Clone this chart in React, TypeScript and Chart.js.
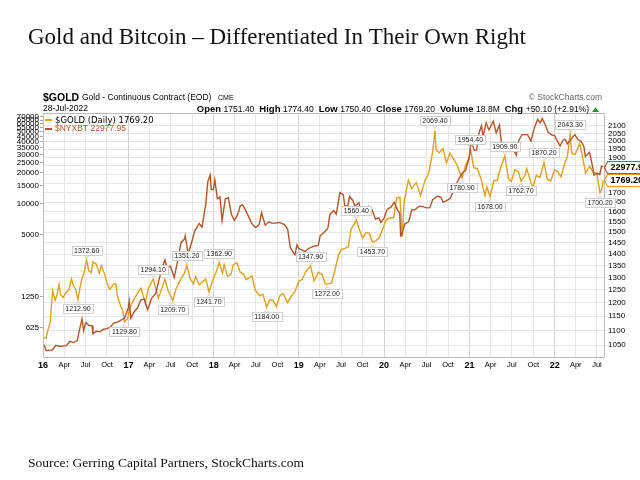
import { useEffect, useRef } from "react";
import { Chart, registerables } from "chart.js";
Chart.register(...registerables);

// ---------------- DATA ----------------
const goldDates = [
  "2016-01-04","2016-01-14","2016-01-21","2016-02-01","2016-02-11","2016-02-22","2016-03-01","2016-03-10","2016-03-16","2016-03-28",
  "2016-04-07","2016-04-21","2016-05-02","2016-05-11","2016-05-19","2016-05-30","2016-06-08","2016-06-16","2016-06-24","2016-07-06",
  "2016-07-15","2016-07-26","2016-08-02","2016-08-16","2016-08-29","2016-09-07","2016-09-20","2016-10-04","2016-10-14","2016-10-28",
  "2016-11-08","2016-11-15","2016-11-28","2016-12-07","2016-12-15","2016-12-28",
  "2017-01-09","2017-01-24","2017-02-06","2017-02-24","2017-03-14","2017-03-27","2017-04-17","2017-05-09","2017-05-24","2017-06-06",
  "2017-06-20","2017-07-10","2017-07-24","2017-08-11","2017-08-29","2017-09-08","2017-09-22","2017-10-06","2017-10-16","2017-10-31",
  "2017-11-15","2017-11-28","2017-12-12","2017-12-27",
  "2018-01-10","2018-01-25","2018-02-08","2018-02-15","2018-03-01","2018-03-16","2018-03-26","2018-04-11","2018-04-24","2018-05-09",
  "2018-05-21","2018-06-14","2018-06-28","2018-07-17","2018-07-31","2018-08-16","2018-08-29","2018-09-13","2018-09-27","2018-10-11",
  "2018-10-26","2018-11-13","2018-11-30","2018-12-14","2018-12-31",
  "2019-01-15","2019-01-31","2019-02-20","2019-03-07","2019-03-25","2019-04-10","2019-04-23","2019-05-02","2019-05-20","2019-06-04",
  "2019-06-20","2019-07-03","2019-07-17","2019-08-01","2019-08-13","2019-08-26","2019-09-04","2019-09-17","2019-10-01","2019-10-15",
  "2019-10-30","2019-11-12","2019-11-27","2019-12-11","2019-12-27",
  "2020-01-08","2020-01-24","2020-02-11","2020-02-24","2020-03-09","2020-03-19","2020-03-27","2020-04-14","2020-04-28","2020-05-18",
  "2020-06-05","2020-06-25","2020-07-09","2020-07-27","2020-08-06","2020-08-11","2020-08-24","2020-09-09","2020-09-24","2020-10-09",
  "2020-10-30","2020-11-09","2020-11-30","2020-12-16","2020-12-31",
  "2021-01-05","2021-01-19","2021-02-03","2021-02-19","2021-03-08","2021-03-16","2021-03-30","2021-04-15","2021-04-30","2021-05-14",
  "2021-06-01","2021-06-17","2021-06-29","2021-07-15","2021-07-30","2021-08-09","2021-08-26","2021-09-03","2021-09-29","2021-10-14",
  "2021-10-29","2021-11-16","2021-11-30","2021-12-15","2021-12-31",
  "2022-01-14","2022-01-28","2022-02-14","2022-02-24","2022-03-08","2022-03-15","2022-03-29","2022-04-18","2022-04-29","2022-05-13",
  "2022-05-31","2022-06-14","2022-06-30","2022-07-14","2022-07-21","2022-07-28",
];
const goldValues = [
  1075,1073,1098,1128,1247,1210,1232,1272,1230,1221,
  1238,1250,1294,1265,1255,1212.9,1262,1296,1318,1372.6,
  1328,1320,1366,1357,1318,1350,1315,1270,1252,1272,
  1276,1225,1189,1172,1129.8,1141,
  1185,1212,1232,1257,1198,1256,1294.1,1218,1256,1293,
  1246,1209.7,1255,1290,1318,1351.2,1297,1274,1303,1270,
  1283,1294,1241.7,1287,
  1319,1362.9,1318,1354,1305,1313,1354,1362,1323,1313,
  1291,1307,1250,1227,1233,1184,1211,1208,1186,1227,
  1236,1201,1226,1241,1284,
  1292,1325,1347.9,1286,1322,1313,1276,1272,1277,1328,
  1397,1420,1425,1433,1517,1537,1560.4,1513,1472,1498,
  1496,1453.7,1460,1475,1518,
  1557,1571,1570,1672,1675,1478,1654,1768,1722,1756,
  1683,1770,1803,1931,2069.4,1946,1929,1954,1868,1925,
  1879,1853,1780.9,1858,1895,
  1954.4,1840,1835,1777,1683,1731,1678,1766,1768,1839,
  1909.9,1774,1761,1828,1817,1762.7,1793,1833,1726,1797,
  1783,1870.2,1774,1764,1828,
  1817,1786,1871,1903,2043.3,1926,1917,1986,1911,1808,
  1848,1813,1807,1700.2,1718,1769.2,
];

const btcDates = [
  "2016-01-04","2016-01-15","2016-01-28","2016-02-10","2016-02-25","2016-03-10","2016-03-25","2016-04-10","2016-04-25","2016-05-10",
  "2016-05-27","2016-06-03","2016-06-16","2016-06-23","2016-07-02","2016-07-15","2016-07-29","2016-08-02","2016-08-16","2016-09-01",
  "2016-09-16","2016-10-01","2016-10-16","2016-10-30","2016-11-15","2016-11-30","2016-12-15","2016-12-31",
  "2017-01-04","2017-01-11","2017-01-25","2017-02-09","2017-02-23","2017-03-10","2017-03-24","2017-04-10","2017-04-28","2017-05-10",
  "2017-05-25","2017-06-06","2017-06-15","2017-06-30","2017-07-16","2017-07-30","2017-08-14","2017-08-30","2017-09-01","2017-09-14",
  "2017-09-30","2017-10-12","2017-10-31","2017-11-12","2017-11-28","2017-12-07","2017-12-17","2017-12-22","2017-12-31",
  "2018-01-06","2018-01-17","2018-01-28","2018-02-06","2018-02-20","2018-03-05","2018-03-18","2018-03-31","2018-04-15","2018-04-25",
  "2018-05-05","2018-05-20","2018-06-12","2018-06-29","2018-07-15","2018-07-25","2018-08-10","2018-08-25","2018-09-05","2018-09-20",
  "2018-10-10","2018-10-31","2018-11-14","2018-11-25","2018-12-07","2018-12-15","2018-12-24","2018-12-31",
  "2019-01-10","2019-01-28","2019-02-08","2019-02-24","2019-03-10","2019-03-25","2019-04-02","2019-04-20","2019-05-05","2019-05-14",
  "2019-05-30","2019-06-10","2019-06-26","2019-07-10","2019-07-17","2019-07-30","2019-08-06","2019-08-20","2019-08-29","2019-09-15",
  "2019-09-26","2019-10-10","2019-10-26","2019-11-10","2019-11-25","2019-12-10","2019-12-18","2019-12-31",
  "2020-01-14","2020-01-31","2020-02-13","2020-02-28","2020-03-08","2020-03-12","2020-03-16","2020-03-30","2020-04-15","2020-04-29",
  "2020-05-10","2020-05-31","2020-06-15","2020-06-30","2020-07-15","2020-07-27","2020-08-16","2020-08-31","2020-09-10","2020-09-25",
  "2020-10-10","2020-10-21","2020-11-05","2020-11-18","2020-11-30","2020-12-16","2020-12-31",
  "2021-01-08","2021-01-22","2021-02-01","2021-02-08","2021-02-21","2021-02-28","2021-03-13","2021-03-25","2021-04-13","2021-04-25",
  "2021-05-09","2021-05-19","2021-05-31","2021-06-12","2021-06-22","2021-07-06","2021-07-20","2021-07-31","2021-08-14","2021-08-31",
  "2021-09-07","2021-09-21","2021-10-06","2021-10-20","2021-10-31","2021-11-08","2021-11-20","2021-12-04","2021-12-20","2021-12-31",
  "2022-01-10","2022-01-24","2022-02-05","2022-02-14","2022-02-24","2022-03-09","2022-03-28","2022-04-10","2022-04-25","2022-05-06",
  "2022-05-12","2022-05-30","2022-06-13","2022-06-18","2022-06-30","2022-07-13","2022-07-20","2022-07-28",
];
const btcValues = [
  433,375,380,381,424,415,417,420,462,450,
  471,569,766,587,703,663,655,548,580,572,
  607,615,638,697,711,742,780,963,
  1135,777,893,980,1170,1190,937,1210,1350,1760,
  2400,2860,2410,2480,1930,2730,4200,4600,4890,3250,
  4340,5440,6450,5950,9900,16500,19100,13800,13850,
  17100,11200,11700,6900,11200,11500,7900,6900,8000,9600,
  9800,8500,6500,5900,6300,8200,6200,6700,6500,6500,
  6600,6300,5700,3800,3400,3200,4000,3700,
  3600,3450,3650,3800,3900,3950,4900,5300,5800,7900,
  8600,7950,12900,12300,9500,9600,11800,10800,9500,10300,
  8000,8600,9500,8800,7100,7300,6600,7200,
  8800,9350,10350,8700,8100,4900,5000,6400,6700,8800,
  8700,9500,9400,9150,9200,11000,11850,11650,10350,10750,
  11300,12800,15500,17800,19700,21300,29000,
  40500,33000,33500,46400,57500,45200,61200,52300,63500,49100,
  58200,37000,37300,35500,32500,34000,29800,41500,47100,47100,
  46800,40700,55300,66000,61300,67500,59700,49200,46700,46300,
  41800,36700,41500,42500,38300,41900,47100,42200,40400,36000,
  28900,31700,22500,19000,19800,19300,23200,22977.95,
];

// swing-point labels on the gold line
const tagDates = [
  "2016-07-06","2016-05-30","2016-12-15","2017-04-17","2017-07-10","2017-09-08","2017-12-12","2018-01-25","2018-08-16","2019-02-20",
  "2019-05-02","2019-09-04","2019-11-12","2020-08-06","2020-11-30","2021-01-05","2021-03-30","2021-06-01","2021-08-09","2021-11-16",
  "2022-03-08","2022-07-14",
];
const tagValues = [
  1372.6,1212.9,1129.8,1294.1,1209.7,1351.2,1241.7,1362.9,1184.0,1347.9,
  1272.0,1560.4,1453.7,2069.4,1780.9,1954.4,1678.0,1909.9,1762.7,1870.2,
  2043.3,1700.2,
];
const tagAbove = [
  true,false,false,true,false,true,false,true,false,true,
  false,true,false,true,false,true,false,true,false,true,
  true,false,
];

const leftTicks = [625,1250,5000,10000,15000,20000,25000,30000,35000,40000,45000,50000,55000,60000,65000,70000];
const rightTicks = [1050,1100,1150,1200,1250,1300,1350,1400,1450,1500,1550,1600,1650,1700,1750,1800,1850,1900,1950,2000,2050,2100];
const yearLabels = ["16","17","18","19","20","21","22"];
const monthLabels = ["Apr","Jul","Oct"];

const GOLD = "#e0a11e";
const BTC = "#b1552c";

const toDay = (s: string) => {
  const [y, m, d] = s.split("-").map(Number);
  return (Date.UTC(y, m - 1, d) - Date.UTC(2016, 0, 1)) / 86400000;
};

const xTickValues: number[] = [];
const xTickLabels: string[] = [];
const xTickIsYear: boolean[] = [];
yearLabels.forEach((yl, yi) => {
  const y = 2016 + yi;
  [0, 3, 6, 9].forEach((m, mi) => {
    if (y === 2022 && m > 6) return;
    xTickValues.push((Date.UTC(y, m, 1) - Date.UTC(2016, 0, 1)) / 86400000);
    xTickLabels.push(mi === 0 ? yl : monthLabels[mi - 1]);
    xTickIsYear.push(mi === 0);
  });
});

const overlay = {
  id: "overlay",
  afterDraw(chart: any) {
    const ctx = chart.ctx as CanvasRenderingContext2D;
    const a = chart.chartArea;
    const xs = chart.scales.x, yg = chart.scales.yG, yl = chart.scales.yL;
    ctx.save();
    // plot frame
    ctx.strokeStyle = "#bcbcbc";
    ctx.lineWidth = 1;
    ctx.strokeRect(Math.round(a.left) + 0.5, Math.round(a.top) + 0.5, Math.round(a.right - a.left), Math.round(a.bottom - a.top));

    // title
    ctx.fillStyle = "#111";
    ctx.textBaseline = "alphabetic";
    ctx.textAlign = "left";
    ctx.font = '23px "Liberation Serif"';
    ctx.fillText("Gold and Bitcoin \u2013 Differentiated In Their Own Right", 28, 44);
    // source
    ctx.font = '13.5px "Liberation Serif"';
    ctx.fillText("Source: Gerring Capital Partners, StockCharts.com", 28, 467);

    // header row 1
    ctx.textBaseline = "middle";
    ctx.fillStyle = "#000";
    ctx.font = 'bold 10.5px "Liberation Sans"';
    ctx.fillText("$GOLD", 43, 98);
    ctx.font = '8.5px "Liberation Sans"';
    ctx.fillText("Gold - Continuous Contract (EOD)", 82, 98);
    ctx.font = '7px "Liberation Sans"';
    ctx.fillText("CME", 218, 98.5);
    ctx.fillStyle = "#666";
    ctx.font = '8.5px "Liberation Sans"';
    ctx.textAlign = "right";
    ctx.fillText("\u00a9 StockCharts.com", 602, 98);
    // header row 2
    ctx.textAlign = "left";
    ctx.fillStyle = "#000";
    ctx.font = '8.5px "Liberation Sans"';
    ctx.fillText("28-Jul-2022", 43, 109);
    const parts: [string, string][] = [
      ["Open", "1751.40"], ["High", "1774.40"], ["Low", "1750.40"], ["Close", "1769.20"], ["Volume", "18.8M"], ["Chg", "+50.10 (+2.91%)"],
    ];
    let widths = 0;
    const segs: { t: string; f: string; w: number }[] = [];
    parts.forEach(([l, v]) => {
      ctx.font = 'bold 9.5px "Liberation Sans"';
      const wl = ctx.measureText(l).width;
      segs.push({ t: l, f: ctx.font, w: wl + 2.5 });
      ctx.font = '8.5px "Liberation Sans"';
      const wv = ctx.measureText(v).width;
      segs.push({ t: v, f: ctx.font, w: wv + 5 });
      widths += wl + 2.5 + wv + 5;
    });
    let hx = 594 - widths;
    segs.forEach((s) => {
      ctx.font = s.f;
      ctx.fillText(s.t, hx, 109.5);
      hx += s.w;
    });
    ctx.fillStyle = "#1a9a1a";
    ctx.beginPath();
    ctx.moveTo(hx - 2, 112);
    ctx.lineTo(hx + 5, 112);
    ctx.lineTo(hx + 1.5, 107.5);
    ctx.closePath();
    ctx.fill();

    // legend
    ctx.fillStyle = GOLD;
    ctx.fillRect(45, 119, 7, 2);
    ctx.fillStyle = "#000";
    ctx.font = '8.5px "DejaVu Sans"';
    ctx.fillText("$GOLD (Daily) 1769.20", 55, 120.5);
    ctx.fillStyle = BTC;
    ctx.fillRect(45, 128, 7, 2);
    ctx.font = '8.5px "Liberation Sans"';
    ctx.fillText("$NYXBT 22977.95", 55, 129);

    // swing labels
    ctx.font = '7px "Liberation Sans"';
    ctx.textAlign = "center";
    tagDates.forEach((d, i) => {
      const px = xs.getPixelForValue(toDay(d));
      const py = yg.getPixelForValue(tagValues[i]);
      const text = tagValues[i].toFixed(2);
      const w = Math.round(ctx.measureText(text).width + 5);
      const h = 9;
      const bx = Math.round(px - w / 2) + 0.5;
      const by = tagAbove[i] ? Math.round(py - 5 - h) + 0.5 : Math.round(py + 5) + 0.5;
      ctx.fillStyle = "#fff";
      ctx.fillRect(bx, by, w, h);
      ctx.strokeStyle = "#cfcfcf";
      ctx.strokeRect(bx, by, w, h);
      ctx.beginPath();
      if (tagAbove[i]) {
        ctx.moveTo(px - 2.5, by + h);
        ctx.lineTo(px, by + h + 3);
        ctx.lineTo(px + 2.5, by + h);
      } else {
        ctx.moveTo(px - 2.5, by);
        ctx.lineTo(px, by - 3);
        ctx.lineTo(px + 2.5, by);
      }
      ctx.stroke();
      ctx.fillStyle = "#222";
      ctx.fillText(text, px, by + h / 2 + 0.5);
    });

    // last-value boxes on right axis
    const box = (text: string, y: number, color: string) => {
      ctx.font = 'bold 9px "Liberation Sans"';
      ctx.textAlign = "left";
      const w = ctx.measureText(text).width + 6;
      const x0 = a.right + 0.5;
      const yy = Math.round(y) + 0.5;
      ctx.fillStyle = "#fff";
      ctx.strokeStyle = color;
      ctx.lineWidth = 1.2;
      ctx.beginPath();
      ctx.moveTo(x0, yy);
      ctx.lineTo(x0 + 3, yy - 6);
      ctx.lineTo(x0 + 3 + w, yy - 6);
      ctx.lineTo(x0 + 3 + w, yy + 6);
      ctx.lineTo(x0 + 3, yy + 6);
      ctx.closePath();
      ctx.fill();
      ctx.stroke();
      ctx.fillStyle = "#000";
      ctx.fillText(text, x0 + 6, yy + 0.5);
    };
    box("22977.95", yl.getPixelForValue(btcValues[btcValues.length - 1]), BTC);
    box("1769.20", yg.getPixelForValue(goldValues[goldValues.length - 1]), GOLD);
    ctx.restore();
  },
};

export default function App() {
  const ref = useRef<HTMLCanvasElement | null>(null);
  useEffect(() => {
    if (!ref.current) return;
    const chart = new Chart(ref.current, {
      type: "line",
      data: {
        datasets: [
          {
            label: "$NYXBT",
            data: btcDates.map((d, i) => ({ x: toDay(d), y: btcValues[i] })),
            yAxisID: "yL",
            borderColor: BTC,
            borderWidth: 1.4,
            pointRadius: 0,
            tension: 0,
          },
          {
            label: "$GOLD",
            data: goldDates.map((d, i) => ({ x: toDay(d), y: goldValues[i] })),
            yAxisID: "yG",
            borderColor: GOLD,
            borderWidth: 1.4,
            pointRadius: 0,
            tension: 0,
          },
        ],
      },
      options: {
        animation: false,
        responsive: false,
        events: [],
        layout: { padding: { top: 113, bottom: 108, left: 0, right: 0 } },
        plugins: { legend: { display: false }, tooltip: { enabled: false } },
        scales: {
          x: {
            type: "linear",
            min: 0,
            max: 2403,
            afterBuildTicks: (s: any) => {
              s.ticks = xTickValues.map((v) => ({ value: v }));
            },
            afterFit: (s: any) => {
              s.height = 15;
            },
            grid: {
              color: (c: any) => {
                const i = xTickValues.indexOf(c.tick ? c.tick.value : -1);
                return i >= 0 && xTickIsYear[i] ? "#d2d2d2" : "#e6e6e6";
              },
              drawTicks: false,
              tickLength: 0,
            },
            border: { display: false },
            ticks: {
              autoSkip: false,
              maxRotation: 0,
              padding: 3,
              color: "#000",
              font: (c: any) => {
                const i = c.index;
                return xTickIsYear[i]
                  ? { family: "Liberation Sans", size: 9, weight: "bold" }
                  : { family: "Liberation Sans", size: 7.5 };
              },
              callback: (v: any) => {
                const i = xTickValues.indexOf(v);
                return i >= 0 ? xTickLabels[i] : "";
              },
            },
          },
          yL: {
            type: "logarithmic",
            position: "left",
            min: 326,
            max: 76300,
            afterBuildTicks: (s: any) => {
              s.ticks = leftTicks.map((v) => ({ value: v }));
            },
            afterFit: (s: any) => {
              s.width = 43;
            },
            grid: { drawOnChartArea: false, tickLength: 3, color: "#aaa" },
            border: { display: false },
            ticks: {
              autoSkip: false,
              padding: 1,
              color: "#000",
              font: { family: "Liberation Sans", size: 8 },
              callback: (v: any) => String(v),
            },
          },
          yG: {
            type: "logarithmic",
            position: "right",
            min: 1011,
            max: 2187,
            afterBuildTicks: (s: any) => {
              s.ticks = rightTicks.map((v) => ({ value: v }));
            },
            afterFit: (s: any) => {
              s.width = 36;
            },
            grid: { color: "#e6e6e6", tickLength: 3 },
            border: { display: false },
            ticks: {
              autoSkip: false,
              padding: 1,
              color: "#000",
              font: { family: "Liberation Sans", size: 8 },
              callback: (v: any) => String(v),
            },
          },
        },
      },
      plugins: [overlay],
    } as any);
    return () => chart.destroy();
  }, []);
  return (
    <div style={{ position: "absolute", left: 0, top: 0, width: 640, height: 480, background: "#fff" }}>
      <canvas ref={ref} width={640} height={480} style={{ display: "block", width: 640, height: 480 }} />
    </div>
  );
}
